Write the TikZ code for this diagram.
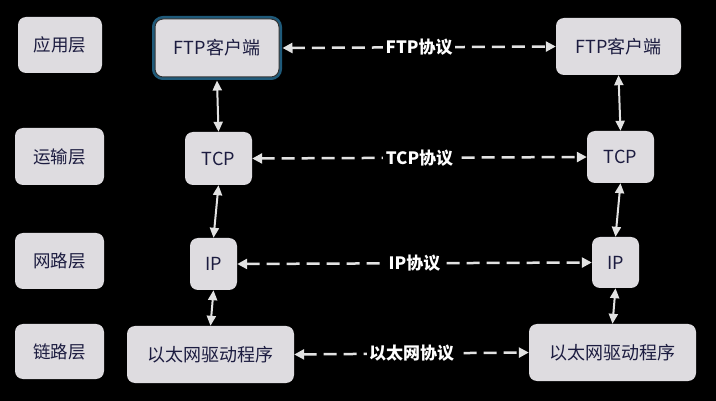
\documentclass[tikz,border=0pt]{standalone}
\usepackage{fontspec}
\setmainfont{Noto Sans CJK SC}
\usepackage{tikz}
\usepackage{xcolor}
\usetikzlibrary{arrows.meta,positioning}
\definecolor{boxfill}{HTML}{DEDCE0}
\definecolor{boxtext}{HTML}{1C1C40}
\definecolor{selblue}{HTML}{1F5A7A}
\definecolor{wire}{HTML}{E2E2E2}
\tikzset{
  layer/.style={fill=boxfill, rounded corners=8pt, text=boxtext, inner sep=0pt,
                minimum width=89pt, minimum height=56pt, font=\fontsize{17.5}{20}\selectfont},
  block/.style={fill=boxfill, rounded corners=8pt, text=boxtext, inner sep=0pt,
                minimum height=56pt, font=\fontsize{18}{21}\selectfont},
  picked/.style={draw=black!80, line width=1pt, preaction={draw=selblue, line width=6pt}},
  stack/.style={{Triangle[length=10pt,width=9pt]}-{Triangle[length=10pt,width=9pt]},
                line width=2pt, draw=wire},
  peer/.style={{Triangle[length=10pt,width=10pt]}-{Triangle[length=10pt,width=10pt]},
               line width=2.5pt, draw=wire, dash pattern=on 13pt off 7pt},
  proto/.style={fill=black, text=white, inner sep=2.5pt, font=\fontsize{17}{20}\selectfont\bfseries}
}
\begin{document}
\begin{tikzpicture}[x=1pt,y=-1pt]
        \fill[black] (0,0) rectangle (716,401);
        \useasboundingbox (0,0) rectangle (716,401);

        % layer names
        \node[layer,minimum width=84pt] (app)  at (60,45)    {应用层};
        \node[layer,minimum height=57pt] (trans) at (59.5,156.5) {运输层};
        \node[layer] (net)  at (59.5,261)  {网路层};
        \node[layer,minimum height=55pt] (link) at (59.5,351.5) {链路层};

        % left host
        \node[block,picked,minimum width=124pt,minimum height=58pt] (lftp) at (217,48) {FTP客户端};
        \node[block,minimum width=67pt,minimum height=53pt] (ltcp) at (218.5,158.5) {TCP};
        \node[block,minimum width=47pt,minimum height=52pt] (lip)  at (213.5,264) {IP};
        \node[block,minimum width=167pt,minimum height=57pt] (leth) at (210.5,354.5) {以太网驱动程序};

        % right host
        \node[block,minimum width=125pt,minimum height=57pt] (rftp) at (618.5,46.5) {FTP客户端};
        \node[block,minimum width=67pt,minimum height=52pt] (rtcp) at (620.5,157) {TCP};
        \node[block,minimum width=47pt,minimum height=51pt] (rip)  at (615.5,262.5) {IP};
        \node[block,minimum width=167pt,minimum height=57pt] (reth) at (612.5,352.5) {以太网驱动程序};

        % stacks
        \draw[stack] ([yshift=-3pt]lftp.south) -- (ltcp.north);
        \draw[stack] (ltcp.south) -- (lip.north);
        \draw[stack] (lip.south) -- (leth.north);
        \draw[stack] (rftp.south) -- (rtcp.north);
        \draw[stack] (rtcp.south) -- (rip.north);
        \draw[stack] (rip.south) -- (reth.north);

        % peer protocols
        \draw[peer] ([xshift=3pt]lftp.east) -- node[proto] (pftp) {FTP协议} (rftp.west);
        \draw[peer] (ltcp.east) -- node[proto] (ptcp) {TCP协议} (rtcp.west);
        \draw[peer] (lip.east) -- node[proto] (pip) {IP协议} (rip.west);
        \draw[peer] (leth.east) -- node[proto] (peth) {以太网协议} (reth.west);
\end{tikzpicture}
\end{document}
